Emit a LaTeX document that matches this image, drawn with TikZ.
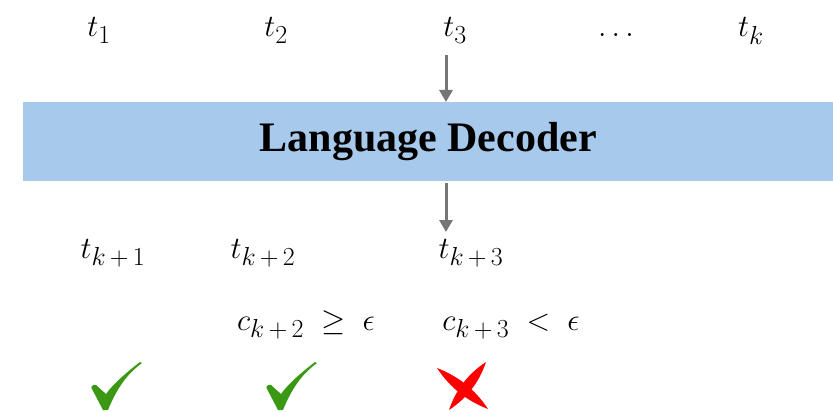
\RequirePackage{fix-cm}
\documentclass[tikz,border=0pt]{standalone}
\usepackage[no-math]{fontspec}
\newfontfamily\lblfont{Liberation Serif}
\usetikzlibrary{arrows.meta}
\DeclareMathSizes{31}{31}{26}{20}
\definecolor{boxblue}{RGB}{167,201,235}
\definecolor{arrgray}{RGB}{118,118,118}
\definecolor{chkgreen}{RGB}{58,152,20}
\definecolor{xred}{RGB}{255,0,0}
\newcommand{\opsp}{\mskip3mu}
\begin{document}
\begin{tikzpicture}[x=1pt,y=-1pt,
  tok/.style={anchor=base,inner sep=0pt,font=\fontsize{31}{36}\selectfont},
  arr/.style={draw=arrgray,line width=3pt,-{Triangle[width=13pt,length=12pt]}},
  pics/chk/.style={code={
    \fill[chkgreen] (-2,0) -- (3,0)
      .. controls (12,-22) and (22,-36) .. (37,-47)
      -- (35,-48) .. controls (22,-38) and (8,-26) .. (1,-16)
      -- (-9,-25) .. controls (-12,-26) and (-15,-23) .. (-13,-21)
      -- cycle;
  }}
]
\useasboundingbox (0,0) rectangle (833,412);
% top tokens
\node[tok] (t1) at (99,37) {$t_1$};
\node[tok] (t2) at (276,37) {$t_2$};
\node[tok] (t3) at (455,37) {$t_3$};
\node[tok] (dots) at (616,37) {$\dots$};
\node[tok] (tk) at (751,37) {$t_k$};
% decoder box
\node[fill=boxblue,minimum width=810pt,minimum height=79pt,inner sep=0pt,
      anchor=north west,font=\lblfont\bfseries\fontsize{42}{46}\selectfont] (dec) at (23,102) {Language Decoder};
% output tokens
\node[tok] (tk1) at (113,258) {$t_{k\opsp+\opsp1}$};
\node[tok] (tk2) at (263,258) {$t_{k\opsp+\opsp2}$};
\node[tok] (tk3) at (471,258) {$t_{k\opsp+\opsp3}$};
% confidences
\node[tok] (c2) at (306,330) {$c_{k\opsp+\opsp2}\;\geq\;\epsilon$};
\node[tok] (c3) at (511,330) {$c_{k\opsp+\opsp3}\;<\;\epsilon$};
% arrows
\coordinate (ax) at (446,0);
\draw[arr] ([yshift=-12pt]t3.south -| ax) -- (dec.north -| ax);
\draw[arr] ([yshift=-2pt]dec.south -| ax) -- ([yshift=-232pt]ax);
% marks
\pic (m1) at (105,410) {chk};
\pic (m2) at (280,410) {chk};
\fill[xred] (437,368) .. controls (449.6,387.2) and (466.6,400.8) .. (488,409)
  .. controls (475.4,389.8) and (458.4,376.2) .. (437,368) -- cycle;
\fill[xred] (486,362) .. controls (468.2,373.7) and (455.8,389.7) .. (449,410)
  .. controls (466.8,398.3) and (479.2,382.3) .. (486,362) -- cycle;
\end{tikzpicture}
\end{document}
